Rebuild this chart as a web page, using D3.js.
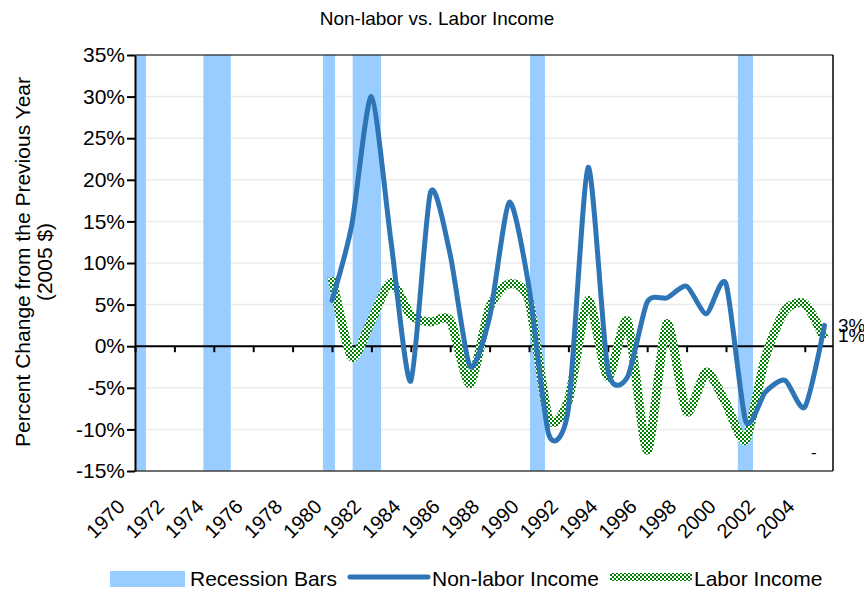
<!DOCTYPE html>
<html>
<head>
<meta charset="utf-8">
<script src="https://cdn.jsdelivr.net/npm/d3@7/dist/d3.min.js"></script>
<style>
  body { margin: 0; background: #fff; }
  text { font-family: Arial, "Liberation Sans", sans-serif; fill: #000; }
</style>
</head>
<body>
<script>
// data
var years = [1980, 1981, 1982, 1983, 1984, 1985, 1986, 1987, 1988, 1989, 1990, 1991, 1992,
             1993, 1994, 1995, 1996, 1997, 1998, 1999, 2000, 2001, 2002, 2003, 2004, 2005];
var nonLabor = [0.055, 0.145, 0.300, 0.125, -0.042, 0.185, 0.110, -0.024, 0.035, 0.173, 0.071, -0.106, -0.075,
                0.215, -0.028, -0.037, 0.053, 0.058, 0.072, 0.039, 0.075, -0.090, -0.055, -0.041, -0.073, 0.025];
var labor = [0.083, -0.013, 0.031, 0.077, 0.037, 0.029, 0.031, -0.045, 0.047, 0.075, 0.055, -0.087, -0.065,
             0.055, -0.037, 0.030, -0.125, 0.027, -0.079, -0.031, -0.069, -0.113, -0.013, 0.043, 0.051, 0.009];
var recessionStart = [1970.0, 1973.47, 1979.54, 1981.05, 1990.05, 2000.6];
var recessionEnd   = [1970.56, 1974.86, 1980.15, 1982.49, 1990.81, 2001.37];
var yTicks = [-0.15, -0.10, -0.05, 0, 0.05, 0.10, 0.15, 0.20, 0.25, 0.30, 0.35];
var xTickYears = [1970, 1972, 1974, 1976, 1978, 1980, 1982, 1984, 1986, 1988, 1990, 1992, 1994, 1996, 1998, 2000, 2002, 2004];
var endLabels = ["3%", "1%"];

var width = 864, height = 590;
var plotLeft = 135, plotRight = 833, plotTop = 55, plotBottom = 471;

var svg = d3.select("body").append("svg")
    .attr("width", width)
    .attr("height", height);

var x = d3.scaleLinear().domain([1970, 2004]).range([plotLeft, plotLeft + 34 * 19.7]);
var y = d3.scaleLinear().domain([-0.15, 0.35]).range([plotBottom, plotTop]);

var pct = function (d) { return Math.round(d * 100) + "%"; };

// checker pattern for labor income
var defs = svg.append("defs");
var pat = defs.append("pattern")
    .attr("id", "checker")
    .attr("patternUnits", "userSpaceOnUse")
    .attr("width", 4).attr("height", 4);
pat.append("rect").attr("width", 4).attr("height", 4).attr("fill", "#ffffff");
pat.append("rect").attr("width", 2).attr("height", 2).attr("fill", "#008000");
pat.append("rect").attr("x", 2).attr("y", 2).attr("width", 2).attr("height", 2).attr("fill", "#008000");

// title
svg.append("text")
    .attr("x", 437).attr("y", 25)
    .attr("text-anchor", "middle")
    .style("font-size", "19px")
    .text("Non-labor vs. Labor Income");

// gridlines
svg.append("g").selectAll("line")
    .data(yTicks.filter(function (d) { return d > -0.15; }))
    .enter().append("line")
    .attr("x1", plotLeft).attr("x2", plotRight)
    .attr("y1", function (d) { return y(d); })
    .attr("y2", function (d) { return y(d); })
    .attr("stroke", "#ebebeb")
    .attr("stroke-width", 1.5);

// recession bars
svg.append("g").selectAll("rect")
    .data(recessionStart)
    .enter().append("rect")
    .attr("x", function (d) { return x(d); })
    .attr("width", function (d, i) { return x(recessionEnd[i]) - x(d); })
    .attr("y", y(0.35))
    .attr("height", y(-0.15) - y(0.35))
    .attr("fill", "#99ccff");

// frame
svg.append("line").attr("x1", plotLeft).attr("x2", plotRight).attr("y1", plotTop).attr("y2", plotTop)
    .attr("stroke", "#000").attr("stroke-width", 1.2);
svg.append("line").attr("x1", plotRight).attr("x2", plotRight).attr("y1", plotTop).attr("y2", plotBottom)
    .attr("stroke", "#000").attr("stroke-width", 1.5);
svg.append("line").attr("x1", plotLeft).attr("x2", plotRight).attr("y1", plotBottom).attr("y2", plotBottom)
    .attr("stroke", "#404040").attr("stroke-width", 1.5);

// zero line with year ticks
svg.append("line").attr("x1", plotLeft).attr("x2", plotRight).attr("y1", y(0)).attr("y2", y(0))
    .attr("stroke", "#000").attr("stroke-width", 2);
var xAxis = svg.append("g")
    .attr("transform", "translate(0," + y(0) + ")")
    .call(d3.axisBottom(x).tickValues(xTickYears).tickSize(6).tickFormat(""));
xAxis.select(".domain").remove();
xAxis.selectAll(".tick line").attr("stroke", "#000").attr("stroke-width", 2);

// year labels at the bottom
svg.append("g").selectAll("text")
    .data(xTickYears)
    .enter().append("text")
    .attr("transform", function (d) { return "translate(" + (x(d) - 9) + ",508) rotate(-45)"; })
    .attr("text-anchor", "end")
    .style("font-size", "20px")
    .text(function (d) { return d; });

// y axis
var yAxis = svg.append("g")
    .attr("transform", "translate(" + plotLeft + ",0)")
    .call(d3.axisLeft(y).tickValues(yTicks).tickSize(8).tickSizeOuter(0).tickPadding(2).tickFormat(pct));
yAxis.select(".domain").attr("stroke", "#000").attr("stroke-width", 2);
yAxis.selectAll(".tick line").attr("stroke", "#000").attr("stroke-width", 2);
yAxis.selectAll(".tick text")
    .style("font-size", "21px")
    .style("font-family", "Arial, 'Liberation Sans', sans-serif")
    .attr("fill", "#000");

// y axis title
svg.append("text")
    .attr("transform", "translate(30,262) rotate(-90)")
    .attr("text-anchor", "middle")
    .style("font-size", "21px")
    .text("Percent Change from the Previous Year");
svg.append("text")
    .attr("transform", "translate(52,262) rotate(-90)")
    .attr("text-anchor", "middle")
    .style("font-size", "21px")
    .text("(2005 $)");

// lines (smoothed like the spreadsheet)
var line = d3.line()
    .x(function (d, i) { return x(years[i]); })
    .y(function (d) { return y(d); })
    .curve(d3.curveCardinal.tension(0.3));

svg.append("path")
    .datum(labor)
    .attr("d", line)
    .attr("fill", "none")
    .attr("stroke", "url(#checker)")
    .attr("stroke-width", 9)
    .attr("stroke-linejoin", "round");

svg.append("path")
    .datum(nonLabor)
    .attr("d", line)
    .attr("fill", "none")
    .attr("stroke", "#2e75b6")
    .attr("stroke-width", 5)
    .attr("stroke-linejoin", "round")
    .attr("stroke-linecap", "round");

// end labels
svg.append("g").selectAll("text")
    .data(endLabels)
    .enter().append("text")
    .attr("x", 838)
    .attr("y", function (d, i) { return 332 + i * 10; })
    .style("font-size", "19px")
    .text(function (d) { return d; });
svg.append("text").attr("x", 811).attr("y", 458).style("font-size", "17px").text("-");

// legend
var lg = svg.append("g");
lg.append("rect").attr("x", 110).attr("y", 571).attr("width", 75).attr("height", 16).attr("fill", "#99ccff");
lg.append("text").attr("x", 190).attr("y", 586).style("font-size", "21px").text("Recession Bars");
lg.append("line").attr("x1", 350).attr("x2", 428).attr("y1", 577).attr("y2", 577)
    .attr("stroke", "#2e75b6").attr("stroke-width", 5).attr("stroke-linecap", "round");
lg.append("text").attr("x", 432).attr("y", 586).style("font-size", "21px").text("Non-labor Income");
lg.append("rect").attr("x", 610).attr("y", 573).attr("width", 82).attr("height", 8).attr("fill", "url(#checker)");
lg.append("text").attr("x", 694).attr("y", 586).style("font-size", "21px").text("Labor Income");
</script>
</body>
</html>
